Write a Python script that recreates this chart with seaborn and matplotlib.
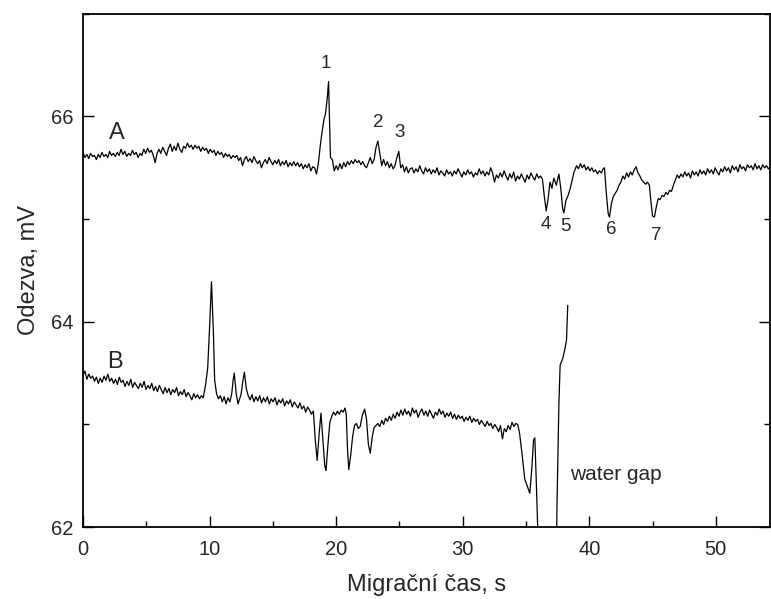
import numpy as np
import pandas as pd
import matplotlib
matplotlib.use("Agg")
import matplotlib.pyplot as plt
from matplotlib.ticker import MultipleLocator
import seaborn as sns

# ================= data =================
# --- trace A ---
a_base1_range = (0.0, 18.3)
a_base1 = [65.65,65.60,65.63,65.59,65.64,65.61,65.62,65.58,65.63,65.60,65.65,65.61,65.63,65.60,65.66,65.62,65.64,65.61,65.65,65.62,
           65.68,65.63,65.66,65.61,65.64,65.62,65.67,65.63,65.65,65.60,65.64,65.62,65.68,65.64,65.69,65.65,65.67,65.62,65.55,65.64,
           65.68,65.64,65.70,65.66,65.62,65.69,65.73,65.66,65.71,65.67,65.74,65.68,65.65,65.71,65.69,65.74,65.70,65.72,65.68,65.72,
           65.69,65.71,65.66,65.70,65.67,65.69,65.64,65.68,65.65,65.67,65.62,65.66,65.63,65.65,65.60,65.64,65.61,65.63,65.59,65.62,
           65.60,65.62,65.57,65.60,65.52,65.58,65.61,65.56,65.59,65.55,65.61,65.57,65.54,65.57,65.50,65.55,65.58,65.54,65.60,65.56,
           65.53,65.57,65.54,65.58,65.52,65.56,65.53,65.57,65.51,65.55,65.52,65.56,65.52,65.55,65.51,65.54,65.49,65.53,65.50,65.54,
           65.47,65.51,65.50]
a_peaks_t = [18.45,18.6,18.75,18.9,19.05,19.15,19.3,19.4,19.55,19.7,19.85,20.0,20.15,20.3,20.45,20.6,20.75,20.9,21.05,21.2,
             21.35,21.5,21.65,21.8,21.95,22.1,22.25,22.4,22.55,22.7,22.85,23.0,23.15,23.3,23.45,23.6,23.75,23.9,24.05,24.2,
             24.35,24.5,24.65,24.8,24.95,25.1,25.25,25.4,25.55,25.7,25.85]
a_peaks_v = [65.44,65.55,65.72,65.86,65.98,66.02,66.18,66.34,65.60,65.58,65.47,65.52,65.48,65.54,65.49,65.55,65.51,65.56,65.53,65.57,
             65.54,65.58,65.55,65.57,65.53,65.56,65.52,65.50,65.55,65.60,65.54,65.58,65.70,65.76,65.64,65.52,65.58,65.52,65.56,65.50,
             65.54,65.49,65.52,65.60,65.66,65.50,65.53,65.46,65.51,65.45,65.49]
a_base2_range = (26.0, 36.3)
a_base2 = [65.50,65.45,65.49,65.46,65.52,65.47,65.44,65.50,65.46,65.49,
           65.44,65.48,65.45,65.50,65.43,65.47,65.45,65.42,65.48,65.44,
           65.46,65.42,65.47,65.44,65.49,65.45,65.41,65.46,65.43,65.48,
           65.44,65.46,65.41,65.45,65.43,65.49,65.44,65.47,65.42,65.46,
           65.43,65.50,65.45,65.36,65.43,65.40,65.45,65.41,65.47,65.42,
           65.38,65.44,65.40,65.46,65.37,65.42,65.39,65.44,65.40,65.36,
           65.43,65.39,65.45,65.41,65.38,65.44,65.40,65.42,65.39]
a_dips_t = [36.45,36.6,36.75,36.9,37.05,37.2,37.4,37.6,37.75,37.9,38.0,38.15,38.3,38.5,38.65,38.8,39.0,39.15,39.3,39.45,
            39.6,39.75,39.9,40.05,40.2,40.35,40.5,40.65,40.8,40.95,41.1,41.2,41.35,41.5,41.6,41.75,41.9,42.05,42.2,42.35,
            42.5,42.65,42.8,42.95,43.1,43.25,43.4,43.55,43.7,43.85,44.0,44.15,44.3,44.45,44.6,44.75,44.85,45.0,45.15,45.3,
            45.45,45.6,45.75,45.9,46.05,46.2,46.35,46.5,46.65,46.8,46.95]
a_dips_v = [65.22,65.08,65.20,65.36,65.30,65.40,65.33,65.44,65.30,65.10,65.06,65.18,65.22,65.30,65.38,65.46,65.52,65.49,65.54,65.50,
            65.53,65.48,65.51,65.47,65.50,65.46,65.48,65.44,65.47,65.45,65.49,65.50,65.25,65.05,65.02,65.15,65.22,65.25,65.28,65.33,
            65.36,65.42,65.39,65.45,65.41,65.46,65.43,65.48,65.51,65.45,65.42,65.38,65.36,65.34,65.36,65.33,65.20,65.03,65.02,65.12,
            65.20,65.19,65.23,65.22,65.26,65.24,65.28,65.27,65.33,65.38,65.43]
a_base3_range = (47.1, 54.3)
a_base3 = [65.40,65.44,65.41,65.46,65.42,65.45,65.40,65.47,65.43,65.46,
           65.42,65.48,65.44,65.47,65.43,65.49,65.45,65.48,65.44,65.50,
           65.46,65.43,65.49,65.46,65.51,65.47,65.50,65.45,65.52,65.48,
           65.51,65.46,65.53,65.49,65.51,65.47,65.53,65.50,65.52,65.48,
           65.54,65.49,65.52,65.48,65.53,65.50,65.52,65.49,65.51]

# --- trace B ---
b_base1_range = (0.0, 9.5)
b_base1 = [63.48,63.52,63.44,63.49,63.45,63.47,63.42,63.46,63.40,63.45,
           63.41,63.47,63.43,63.49,63.42,63.45,63.40,63.44,63.39,63.46,
           63.41,63.43,63.37,63.42,63.38,63.44,63.36,63.41,63.38,63.35,
           63.40,63.36,63.42,63.34,63.38,63.35,63.40,63.33,63.37,63.32,
           63.38,63.34,63.30,63.36,63.31,63.35,63.29,63.34,63.31,63.36,
           63.28,63.32,63.29,63.34,63.27,63.31,63.28,63.24,63.30,63.26,
           63.29,63.25,63.28,63.26]
b_peaks_t = [9.7,9.85,10.0,10.15,10.3,10.4,10.55,10.7,10.85,11.0,11.15,11.3,11.45,11.6,11.75,11.85,11.95,12.1,12.25,12.4,
             12.5,12.6,12.75,12.9]
b_peaks_v = [63.40,63.55,63.95,64.39,63.90,63.43,63.30,63.25,63.28,63.22,63.27,63.20,63.26,63.22,63.30,63.42,63.50,63.30,63.20,63.26,
             63.30,63.40,63.51,63.35]
b_base2_range = (13.05, 18.2)
b_base2 = [63.28,63.24,63.29,63.22,63.27,63.23,63.28,63.21,63.26,63.22,
           63.27,63.20,63.25,63.22,63.26,63.19,63.24,63.21,63.25,63.18,
           63.23,63.20,63.24,63.17,63.22,63.19,63.16,63.21,63.15,63.18,
           63.12,63.17,63.14,63.10,63.13]
b_dips_t = [18.35,18.5,18.65,18.8,18.95,19.1,19.2,19.35,19.5,19.65,19.8,19.95,20.1,20.25,20.4,20.55,20.7,20.8,20.9,21.0,
            21.15,21.3,21.45,21.6,21.75,21.9,22.05,22.25,22.4,22.55,22.7,22.85,23.0,23.15]
b_dips_v = [62.85,62.65,62.90,63.11,62.85,62.60,62.55,62.80,63.02,63.08,63.12,63.09,63.13,63.10,63.14,63.12,63.16,63.10,62.75,62.56,
            62.70,62.88,62.99,63.01,62.96,62.98,63.08,63.15,63.05,62.80,62.72,62.88,62.97,62.99]
b_base3_range = (23.3, 34.35)
b_base3 = [63.01,62.98,63.04,63.00,63.06,63.03,63.08,63.04,63.10,63.06,
           63.12,63.08,63.14,63.09,63.15,63.10,63.13,63.08,63.16,63.11,
           63.14,63.07,63.12,63.15,63.09,63.13,63.08,63.14,63.10,63.06,
           63.12,63.09,63.15,63.10,63.13,63.07,63.11,63.08,63.12,63.06,
           63.10,63.05,63.09,63.06,63.08,63.03,63.07,63.04,63.08,63.02,
           63.06,63.03,63.05,63.00,63.04,63.01,62.98,63.03,62.99,63.01,
           62.96,63.00,62.97,62.93,62.99,62.86,62.96,62.93,62.99,62.95,
           63.02,62.98,63.01,63.00]
b_end_t = [34.5,34.7,34.9,35.1,35.3,35.45,35.6,35.7,35.8,35.95,36.0,37.35,37.45,37.6,37.7,37.9,38.1,38.2,38.3]
b_end_v = [62.91,62.70,62.47,62.40,62.33,62.55,62.85,62.87,62.50,61.90,61.00,61.00,62.20,63.20,63.58,63.64,63.75,63.82,64.16]

curve_labels = ["A", "B"]
curve_label_pos = [(2.7, 65.84), (2.5, 63.61)]
peak_labels = ["1", "2", "3", "4", "5", "6", "7"]
peak_label_pos = [(19.2, 66.52), (23.3, 65.94), (25.0, 65.84), (36.6, 64.95), (38.1, 64.93), (41.7, 64.9), (45.3, 64.84)]
note_text = "water gap"
note_pos = (38.5, 62.51)


# ================= assemble =================
def grid(rng, vals):
    return list(np.linspace(rng[0], rng[1], len(vals)))


tA = grid(a_base1_range, a_base1) + a_peaks_t + grid(a_base2_range, a_base2) + a_dips_t + grid(a_base3_range, a_base3)
vA = a_base1 + a_peaks_v + a_base2 + a_dips_v + a_base3
tB = grid(b_base1_range, b_base1) + b_peaks_t + grid(b_base2_range, b_base2) + b_dips_t + grid(b_base3_range, b_base3) + b_end_t
vB = b_base1 + b_peaks_v + b_base2 + b_dips_v + b_base3 + b_end_v

df = pd.concat([
    pd.DataFrame({"t": tA, "v": vA, "trace": "A"}),
    pd.DataFrame({"t": tB, "v": vB, "trace": "B"}),
], ignore_index=True)

sns.set_style("ticks")
plt.rcParams["font.family"] = ["Liberation Sans", "DejaVu Sans"]

fig = plt.figure(figsize=(7.71, 5.99), dpi=100)
ax = fig.add_axes([0.1077, 0.12, 0.8913, 0.857])

sns.lineplot(data=df, x="t", y="v", units="trace", estimator=None, sort=False,
             color="black", linewidth=0.9, ax=ax, legend=False)

ax.set_xlim(0, 54.3)
ax.set_ylim(62, 67)
ax.xaxis.set_major_locator(MultipleLocator(10))
ax.xaxis.set_minor_locator(MultipleLocator(5))
ax.yaxis.set_major_locator(MultipleLocator(2))
ax.yaxis.set_minor_locator(MultipleLocator(1))
ax.tick_params(which="both", direction="in", right=True, top=False, labelsize=14.5, width=1.0, color="black")
ax.tick_params(axis="x", which="major", length=8, pad=9)
ax.tick_params(axis="y", which="major", length=8, pad=7)
ax.tick_params(which="minor", length=4)
for s in ax.spines.values():
    s.set_linewidth(1.3)
    s.set_color("black")

ax.set_xlabel("Migrační čas, s", fontsize=17, labelpad=11)
ax.set_ylabel("Odezva, mV", fontsize=17, labelpad=8)

for lab, (x, y) in zip(curve_labels, curve_label_pos):
    ax.text(x, y, lab, fontsize=17, ha="center", va="center")
for lab, (x, y) in zip(peak_labels, peak_label_pos):
    ax.text(x, y, lab, fontsize=13.5, ha="center", va="center")
ax.text(note_pos[0], note_pos[1], note_text, fontsize=15, ha="left", va="center")

fig.savefig("out.png", dpi=100)
